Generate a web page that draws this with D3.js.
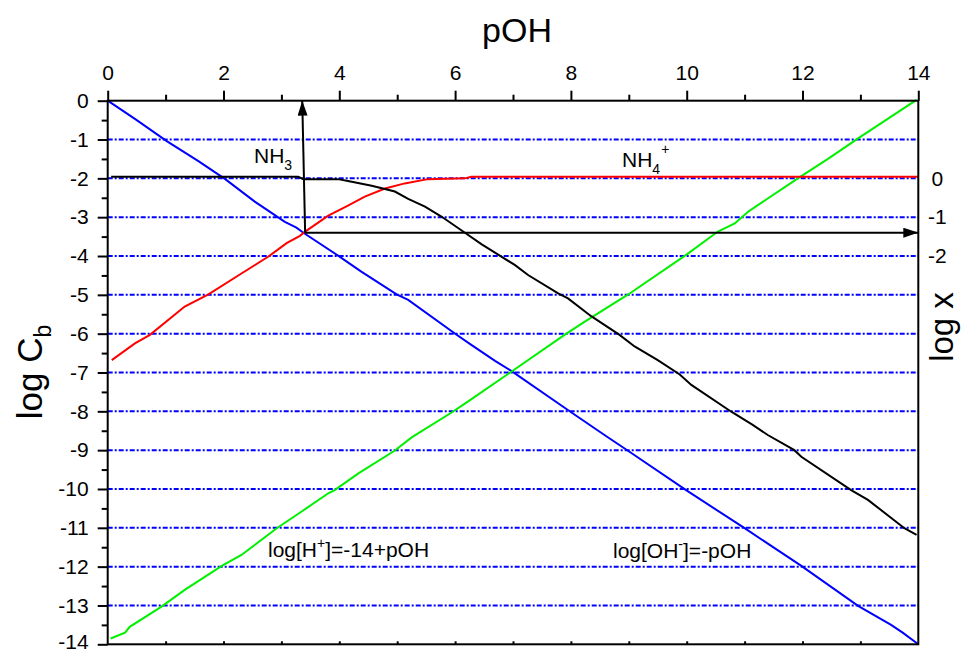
<!DOCTYPE html>
<html><head><meta charset="utf-8">
<script src="https://cdn.jsdelivr.net/npm/d3@7"></script>
<style>
body{margin:0;background:#fff}
text{font-family:"Liberation Sans",Arial,sans-serif;fill:#000}
</style>
</head><body>
<svg id="chart" width="962" height="653"></svg>
<script>
// ---------- data ----------
const xDomain = [0, 14];
const yDomain = [0, -14];
const topTicks = [0, 2, 4, 6, 8, 10, 12, 14];
const topMinorTicks = [1, 3, 5, 7, 9, 11, 13];
const bottomTicks = [1, 2, 3, 4, 5, 6, 7, 8, 9, 10, 11, 12, 13];
const leftTicks = [0, -1, -2, -3, -4, -5, -6, -7, -8, -9, -10, -11, -12, -13, -14];
const leftMinorTicks = [-0.5, -1.5, -2.5, -3.5, -4.5, -5.5, -6.5, -7.5, -8.5, -9.5, -10.5, -11.5, -12.5, -13.5];
const rightTicks = [0, -1, -2];          // log x
const rightDomain = [2, -12];           // log x axis range
const gridValues = [-1, -2, -3, -4, -5, -6, -7, -8, -9, -10, -11, -12, -13];

// log[OH-] (blue)
const ohSeries = [[0,0],[0.47,-0.47],[1.02,-1.04],[1.56,-1.55],[2.03,-2.02],[2.54,-2.6],[3.06,-3.12],[3.26,-3.27],[3.38,-3.4],[4.01,-4.02],[4.38,-4.4],[4.99,-4.99],[5.19,-5.13],[6.02,-6.02],[6.28,-6.29],[6.69,-6.7],[6.97,-6.96],[8.01,-8.03],[8.58,-8.61],[9.05,-9.08],[9.99,-10.03],[11.0,-11.01],[11.98,-11.98],[12.96,-13.01],[13.53,-13.5],[13.73,-13.7],[14,-14]];
// log[H+] (green)
const hSeries = [[0.05,-13.85],[0.3,-13.7],[0.38,-13.55],[0.93,-13.03],[1.33,-12.6],[1.97,-11.98],[2.31,-11.7],[2.92,-11.01],[3.35,-10.58],[3.81,-10.11],[3.92,-10.03],[4.33,-9.6],[4.96,-9.01],[5.25,-8.67],[5.94,-8.03],[6.22,-7.75],[6.97,-6.98],[7.89,-6.03],[8.24,-5.69],[8.99,-4.99],[9.99,-3.97],[10.54,-3.37],[10.83,-3.16],[11.06,-2.86],[11.92,-2.0],[12.44,-1.5],[12.96,-0.97],[13.97,0.02]];
// log[NH4+] (red)
const nh4Series = [[0.07,-6.68],[0.47,-6.25],[0.73,-6.03],[1.33,-5.3],[1.74,-4.99],[2.31,-4.45],[2.77,-4.02],[3.09,-3.67],[3.32,-3.48],[3.41,-3.37],[3.81,-2.96],[4.15,-2.7],[4.44,-2.47],[4.79,-2.26],[5.13,-2.13],[5.53,-2.02],[6.17,-2.0],[6.28,-1.96],[14,-1.96]];
// log[NH3] (black)
const nh3Series = [[0.06,-1.96],[3.29,-1.96],[3.38,-2.02],[3.98,-2.02],[4.15,-2.07],[4.56,-2.19],[4.96,-2.34],[5.19,-2.53],[5.48,-2.73],[5.77,-2.99],[6.17,-3.4],[6.46,-3.7],[7.03,-4.23],[7.26,-4.49],[7.78,-4.96],[7.95,-5.09],[8.35,-5.55],[8.84,-6.03],[9.1,-6.33],[9.5,-6.68],[9.88,-7.05],[10.08,-7.32],[10.77,-8.01],[11.14,-8.35],[11.4,-8.61],[11.86,-9.0],[11.98,-9.17],[12.84,-10.03],[13.13,-10.28],[13.76,-11.01],[13.97,-11.18]];
// arrows (pOH, log C)
const arrowUp = [[3.41,-3.4],[3.36,0]];
const arrowRight = [[3.41,-3.4],[14,-3.4]];

// ---------- layout ----------
const svg = d3.select("#chart");
const L = 107.7, R = 918.3, T = 100.7, B = 644.3;
const x = d3.scaleLinear(xDomain, [L, R]);
const y = d3.scaleLinear(yDomain, [T, B]);
const yR = d3.scaleLinear(rightDomain, [T, B]);
const fontTick = 21;
const fmt = d => String(d);

// grid
svg.append("g").selectAll("line").data(gridValues).join("line")
  .attr("x1", L).attr("x2", R).attr("y1", d => y(d)).attr("y2", d => y(d))
  .attr("stroke", "#0000ff").attr("stroke-width", 2)
  .attr("stroke-dasharray", "5,2,2,2");

// curves
const line = d3.line().x(d => x(d[0])).y(d => y(d[1]));
const series = [[ohSeries, "#0000ff"], [hSeries, "#00f000"], [nh4Series, "#ff0000"], [nh3Series, "#000000"]];
svg.append("g").selectAll("path").data(series).join("path")
  .attr("d", d => line(d[0])).attr("fill", "none")
  .attr("stroke", d => d[1]).attr("stroke-width", 2);

// arrows
const defs = svg.append("defs");
defs.append("marker").attr("id", "ah").attr("viewBox", "0 0 15 10")
  .attr("refX", 15).attr("refY", 5).attr("markerWidth", 15).attr("markerHeight", 10)
  .attr("markerUnits", "userSpaceOnUse").attr("orient", "auto")
  .append("path").attr("d", "M0,0 L15,5 L0,10 Z").attr("fill", "#000");
svg.append("g").selectAll("path").data([arrowUp, arrowRight]).join("path")
  .attr("d", d => line(d)).attr("fill", "none").attr("stroke", "#000")
  .attr("stroke-width", 2).attr("marker-end", "url(#ah)");

// axes
function styleAxis(g) {
  g.select(".domain").remove();
  g.selectAll("line").attr("stroke", "#000").attr("stroke-width", 2);
  g.selectAll("text").attr("font-size", fontTick).attr("fill", "#000")
    .attr("font-family", "Liberation Sans, Arial, sans-serif");
}
svg.append("g").attr("transform", `translate(0,${T})`)
  .call(d3.axisTop(x).tickValues(topTicks).tickSize(10).tickPadding(11).tickFormat(fmt))
  .call(styleAxis);
svg.append("g").attr("transform", `translate(0,${T})`)
  .call(d3.axisTop(x).tickValues(topMinorTicks).tickSize(6).tickFormat(""))
  .call(styleAxis);
svg.append("g").attr("transform", `translate(0,${B})`)
  .call(d3.axisBottom(x).tickValues(bottomTicks).tickSize(-3).tickFormat(""))
  .call(styleAxis);
svg.append("g").attr("transform", `translate(${L},0)`)
  .call(d3.axisLeft(y).tickValues(leftTicks).tickSize(10).tickPadding(9).tickFormat(fmt))
  .call(styleAxis)
  .call(g => g.selectAll("text").filter(d => d === -14).attr("dy", "0.2em"));
svg.append("g").attr("transform", `translate(${L},0)`)
  .call(d3.axisLeft(y).tickValues(leftMinorTicks).tickSize(6).tickFormat(""))
  .call(styleAxis);
svg.append("g").attr("transform", `translate(${R},0)`)
  .call(d3.axisRight(yR).tickValues(rightTicks).tickSize(0).tickPadding(19).tickFormat(fmt))
  .call(styleAxis)
  .call(g => g.selectAll("text").attr("text-anchor", "middle"));
// frame
svg.append("rect").attr("x", L).attr("y", T).attr("width", R - L).attr("height", B - T)
  .attr("fill", "none").attr("stroke", "#000").attr("stroke-width", 2);

// titles
svg.append("text").attr("x", 517).attr("y", 42).attr("text-anchor", "middle")
  .attr("font-size", 34).text("pOH");
const yl = svg.append("text").attr("transform", `translate(42,372) rotate(-90)`)
  .attr("text-anchor", "middle").attr("font-size", 35);
yl.append("tspan").text("log C");
yl.append("tspan").attr("font-size", 23).attr("dy", 9).text("b");
svg.append("text").attr("transform", `translate(953,327) rotate(-90)`)
  .attr("text-anchor", "middle").attr("font-size", 33).text("log x");

// annotations
const a1 = svg.append("text").attr("x", 254).attr("y", 163.3).attr("font-size", 21);
a1.append("tspan").text("NH");
a1.append("tspan").attr("font-size", 14).attr("dy", 7).text("3");
const a2 = svg.append("text").attr("x", 622).attr("y", 166.7).attr("font-size", 21);
a2.append("tspan").text("NH");
a2.append("tspan").attr("font-size", 14).attr("dy", 7).text("4");
a2.append("tspan").attr("font-size", 14).attr("dx", 1).attr("dy", -20).text("+");
const a3 = svg.append("text").attr("x", 268).attr("y", 556.7).attr("font-size", 21);
a3.append("tspan").text("log[H");
a3.append("tspan").attr("font-size", 14).attr("dy", -9).text("+");
a3.append("tspan").attr("dy", 9).text("]=-14+pOH");
const a4 = svg.append("text").attr("x", 613).attr("y", 558.3).attr("font-size", 21);
a4.append("tspan").text("log[OH");
a4.append("tspan").attr("font-size", 14).attr("dy", -9).text("-");
a4.append("tspan").attr("dy", 9).text("]=-pOH");
</script>
</body></html>
